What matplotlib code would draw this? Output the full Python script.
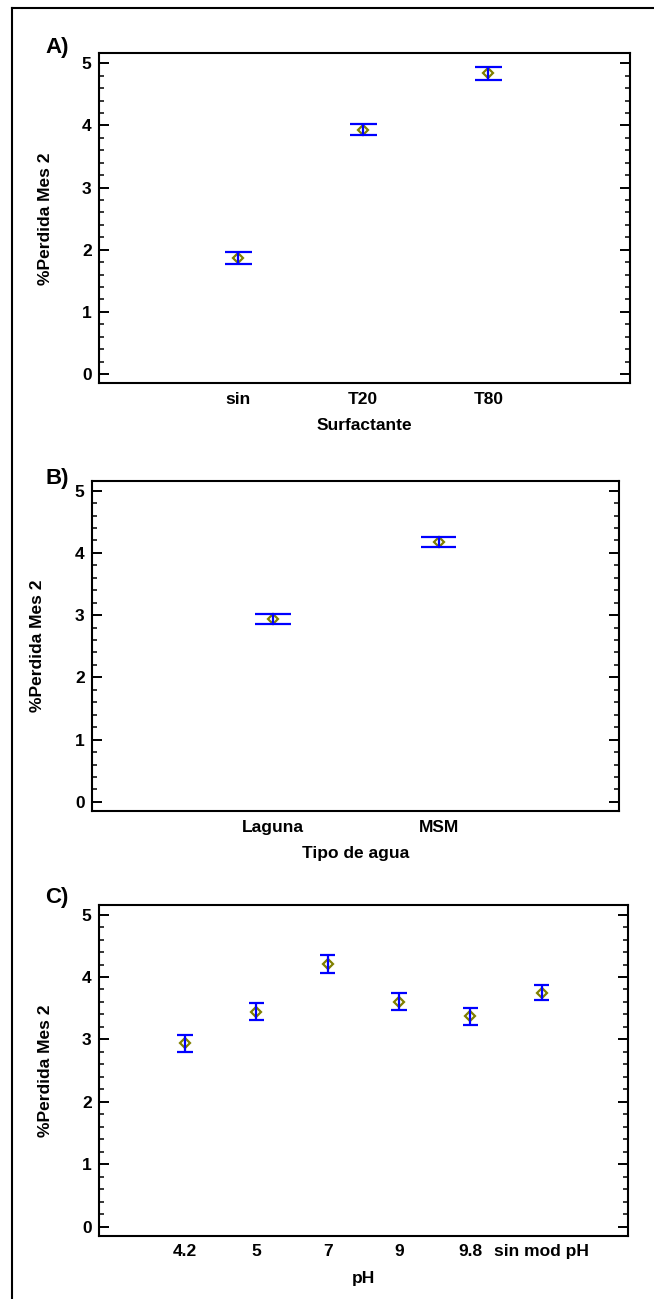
import matplotlib
matplotlib.use('Agg')
import matplotlib.pyplot as plt
from matplotlib.lines import Line2D
from matplotlib.ticker import MultipleLocator

plt.rcParams['font.family'] = ['Liberation Sans Narrow', 'Liberation Sans', 'DejaVu Sans']
plt.rcParams['font.weight'] = 'bold'

# datos (medias y semiintervalos LSD)
surf_labels = ['sin', 'T20', 'T80']
surf_mean = [1.865, 3.93, 4.84]
surf_err = [0.10, 0.09, 0.105]

agua_labels = ['Laguna', 'MSM']
agua_mean = [2.94, 4.18]
agua_err = [0.08, 0.08]

ph_labels = ['4.2', '5', '7', '9', '9.8', 'sin mod pH']
ph_mean = [2.94, 3.445, 4.21, 3.605, 3.37, 3.75]
ph_err = [0.135, 0.135, 0.14, 0.135, 0.14, 0.12]

W, H = 654, 1299
fig = plt.figure(figsize=(W / 100, H / 100), dpi=100)

BLUE = '#0000ff'
OLIVE = '#808000'


def panel(rect, labels, mean, err, xpad, xlabel, tag, ylab_x, tag_xy):
    l, t, r, b = rect
    ax = fig.add_axes([l / W, 1 - b / H, (r - l) / W, (b - t) / H])
    x = list(range(1, len(labels) + 1))
    lo = [m - e for m, e in zip(mean, err)]
    hi = [m + e for m, e in zip(mean, err)]
    hw = 0.107
    ax.vlines(x, lo, hi, color=BLUE, lw=1.6, zorder=3)
    ax.hlines(lo, [v - hw for v in x], [v + hw for v in x], color=BLUE, lw=1.6, zorder=3)
    ax.hlines(hi, [v - hw for v in x], [v + hw for v in x], color=BLUE, lw=1.6, zorder=3)
    ax.plot(x, mean, ls='none', marker='D', ms=5.5, mfc='none', mec=OLIVE, mew=1.6, zorder=2)

    ax.set_xlim(1 - xpad[0], len(labels) + xpad[1])
    ax.set_ylim(-0.15, 5.16)
    ax.set_xticks(x)
    ax.set_xticklabels(labels)
    ax.yaxis.set_major_locator(MultipleLocator(1))
    ax.yaxis.set_minor_locator(MultipleLocator(0.2))
    ax.tick_params(axis='x', length=0, pad=6, labelsize=12.5)
    ax.tick_params(axis='y', which='major', direction='in', length=7.2, width=1.4,
                   left=True, right=True, pad=5.5, labelsize=12.5)
    ax.tick_params(axis='y', which='minor', direction='in', length=3.6, width=1.1,
                   left=True, right=True)
    for s in ax.spines.values():
        s.set_linewidth(1.5)

    ax.set_xlabel(xlabel, fontsize=12.5, fontweight='bold', va='center')
    ax.xaxis.set_label_coords(0.5, -42 / (b - t))
    ax.set_ylabel('%Perdida Mes 2', fontsize=12.5, fontweight='bold', va='center', ha='center')
    ax.yaxis.set_label_coords((ylab_x - l) / (r - l), 0.5)

    fig.text(tag_xy[0] / W, 1 - tag_xy[1] / H, tag, fontsize=16, fontweight='bold',
             family=['Liberation Sans', 'DejaVu Sans'], ha='center', va='center')
    return ax


panel((99.3, 53.3, 629.7, 383.3), surf_labels, surf_mean, surf_err, (1.11, 1.13),
      'Surfactante', 'A)', 46, (57, 48))
panel((92.3, 480.7, 619.3, 811.2), agua_labels, agua_mean, agua_err, (1.09, 1.09),
      'Tipo de agua', 'B)', 38, (57, 479))
panel((99.3, 904.6, 628.0, 1236.0), ph_labels, ph_mean, ph_err, (1.2, 1.21),
      'pH', 'C)', 46, (57, 897))

# marco exterior
fig.add_artist(Line2D([11.7 / W, 11.7 / W], [0, 1 - 8.3 / H], color='black', lw=1.5))
fig.add_artist(Line2D([11.7 / W, 1], [1 - 8.3 / H, 1 - 8.3 / H], color='black', lw=1.5))

plt.savefig('out.png', dpi=100)
